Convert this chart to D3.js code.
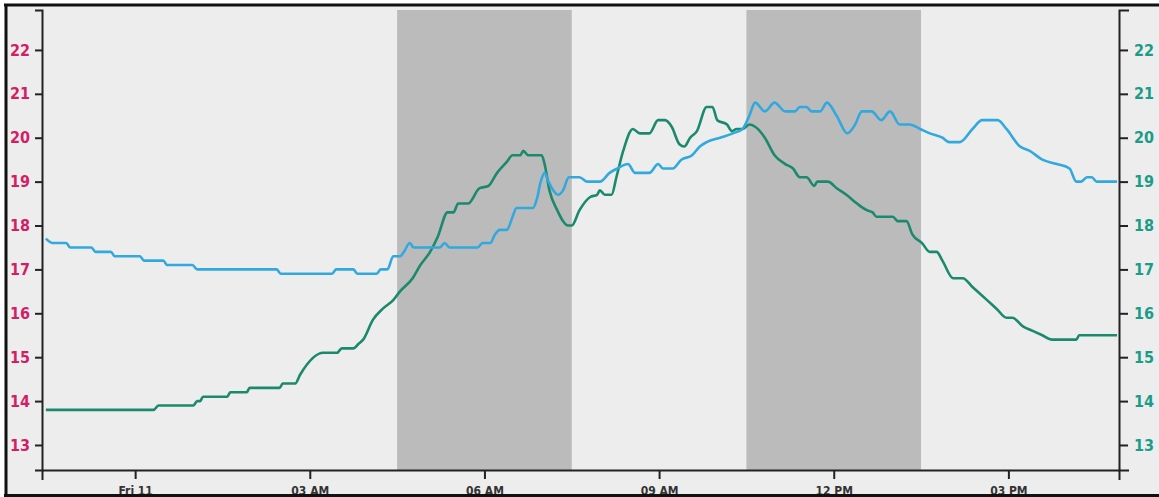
<!DOCTYPE html>
<html><head><meta charset="utf-8">
<script src="https://cdn.jsdelivr.net/npm/d3@7"></script>
<style>
html,body{margin:0;padding:0;background:#fff;}
svg{display:block;}
.tick text{font-family:'DejaVu Sans Condensed','DejaVu Sans',sans-serif;font-stretch:condensed;font-weight:bold;}
</style></head><body>
<svg id="chart" width="1159" height="497"></svg>
<script>
// minutes relative to Fri 11 00:00 (negative = Thu 10)
const yTickValues = [13,14,15,16,17,18,19,20,21,22];
const xTickMinutes = [0,180,360,540,720,900];
const shadedBands = [[270,450],[630,810]];
const blueSeries = [[-92,17.7],[-85,17.6],[-71,17.6],[-67,17.5],[-45,17.5],[-41,17.4],[-25,17.4],[-21,17.3],[5,17.3],[9,17.2],[29,17.2],[33,17.1],[59,17.1],[64,17.0],[146,17.0],[150,16.9],[203,16.9],[207,17.0],[225,17.0],[229,16.9],[249,16.9],[253,17.0],[260,17.0],[266,17.3],[273,17.3],[277,17.4],[283,17.6],[287,17.5],[314,17.5],[319,17.6],[324,17.5],[353,17.5],[358,17.6],[366,17.6],[371,17.8],[376,17.9],[383,17.9],[389,18.2],[393,18.4],[410,18.4],[414,18.6],[418,19.0],[422,19.2],[426,19.0],[431,18.8],[436,18.7],[441,18.8],[447,19.1],[458,19.1],[466,19.0],[479,19.0],[489,19.2],[497,19.3],[508,19.4],[515,19.2],[530,19.2],[539,19.4],[544,19.3],[554,19.3],[563,19.5],[574,19.6],[582,19.8],[589,19.9],[603,20.0],[616,20.1],[626,20.2],[633,20.5],[639,20.8],[649,20.6],[659,20.8],[670,20.6],[680,20.6],[685,20.7],[692,20.7],[697,20.6],[706,20.6],[713,20.8],[723,20.5],[734,20.1],[742,20.3],[749,20.6],[759,20.6],[769,20.4],[778,20.6],[788,20.3],[798,20.3],[809,20.2],[819,20.1],[832,20.0],[839,19.9],[850,19.9],[863,20.2],[873,20.4],[889,20.4],[898,20.2],[912,19.8],[922,19.7],[935,19.5],[950,19.4],[963,19.3],[970,19.0],[975,19.0],[981,19.1],[986,19.1],[991,19.0],[1012,19.0]];
const greenSeries = [[-92,13.8],[19,13.8],[24,13.9],[60,13.9],[64,14.0],[67,14.0],[70,14.1],[95,14.1],[98,14.2],[115,14.2],[118,14.3],[149,14.3],[152,14.4],[165,14.4],[170,14.6],[194,15.1],[208,15.1],[213,15.2],[225,15.2],[230,15.3],[235,15.4],[245,15.85],[255,16.1],[266,16.3],[273,16.5],[286,16.8],[294,17.1],[304,17.4],[312,17.75],[322,18.3],[328,18.3],[333,18.5],[343,18.5],[355,18.85],[364,18.9],[373,19.2],[383,19.45],[389,19.6],[397,19.6],[400,19.7],[405,19.6],[419,19.6],[422,19.4],[427,18.8],[435,18.35],[441,18.1],[446,18.0],[450,18.0],[458,18.35],[469,18.65],[476,18.7],[479,18.8],[484,18.7],[491,18.7],[496,19.1],[503,19.7],[513,20.2],[520,20.1],[530,20.1],[539,20.4],[546,20.4],[553,20.25],[561,19.85],[566,19.8],[572,20.0],[579,20.15],[589,20.7],[595,20.7],[600,20.4],[610,20.3],[615,20.15],[620,20.2],[626,20.2],[633,20.3],[639,20.25],[649,20.0],[659,19.6],[670,19.4],[678,19.3],[685,19.1],[692,19.1],[700,18.9],[703,19.0],[714,19.0],[723,18.85],[733,18.7],[744,18.5],[754,18.35],[760,18.3],[764,18.2],[781,18.2],[786,18.1],[795,18.1],[801,17.8],[811,17.6],[819,17.4],[826,17.4],[832,17.2],[843,16.8],[853,16.8],[863,16.6],[878,16.3],[888,16.1],[898,15.9],[904,15.9],[915,15.7],[925,15.6],[935,15.5],[945,15.4],[970,15.4],[973,15.5],[1012,15.5]];

const dayStart = new Date(2013, 9, 11, 0, 0);
const toDate = m => new Date(dayStart.getTime() + m * 60000);

const svg = d3.select('#chart');
const x = d3.scaleTime().domain([toDate(-96), toDate(1014)]).range([42, 1119]);
const y = d3.scaleLinear().domain([12.43, 22.91]).range([470, 10]);

// background
svg.append('rect').attr('x', 7).attr('y', 6).attr('width', 1152).attr('height', 489).attr('fill', '#ededed');

// shaded bands
svg.selectAll('rect.band').data(shadedBands).enter().append('rect')
  .attr('class', 'band')
  .attr('x', d => x(toDate(d[0])))
  .attr('width', d => x(toDate(d[1])) - x(toDate(d[0])))
  .attr('y', 10).attr('height', 460)
  .attr('fill', '#bbbbbb');

const line = d3.line()
  .x(d => x(toDate(d[0])))
  .y(d => y(d[1]))
  .curve(d3.curveMonotoneX);

svg.append('path').datum(greenSeries).attr('d', line)
  .attr('fill', 'none').attr('stroke', '#1b8a6c').attr('stroke-width', 2.6);
svg.append('path').datum(blueSeries).attr('d', line)
  .attr('fill', 'none').attr('stroke', '#31a9de').attr('stroke-width', 2.6);

const fmtDay = d3.timeFormat('%a %d');
const fmtHour = d3.timeFormat('%I %p');
const xAxis = d3.axisBottom(x)
  .tickValues(xTickMinutes.map(toDate))
  .tickFormat(d => d.getHours() === 0 ? fmtDay(d) : fmtHour(d))
  .tickSize(9).tickSizeOuter(10).tickPadding(7);
const gx = svg.append('g').attr('transform', 'translate(0,470)').call(xAxis);
gx.selectAll('text').attr('fill', '#333').style('font-size', '12px');

const gl = svg.append('g').attr('transform', 'translate(42,0)')
  .call(d3.axisLeft(y).tickValues(yTickValues).tickSize(7).tickSizeOuter(7).tickPadding(5));
gl.selectAll('text').attr('fill', '#d21e66').style('font-size', '16px');

const gr = svg.append('g').attr('transform', 'translate(1119,0)')
  .call(d3.axisRight(y).tickValues(yTickValues).tickSize(9).tickSizeOuter(10).tickPadding(6));
gr.selectAll('text').attr('fill', '#1c9c86').style('font-size', '16px');

[gx, gl, gr].forEach(g => {
  g.selectAll('.domain, .tick line').attr('stroke', '#222').attr('stroke-width', 2);
});

// frame
svg.append('line').attr('x1', 4).attr('x2', 1159).attr('y1', 5).attr('y2', 5).attr('stroke', '#111').attr('stroke-width', 3);
svg.append('line').attr('x1', 6).attr('x2', 6).attr('y1', 4).attr('y2', 497).attr('stroke', '#111').attr('stroke-width', 3);
svg.append('line').attr('x1', 4).attr('x2', 1159).attr('y1', 495.5).attr('y2', 495.5).attr('stroke', '#111').attr('stroke-width', 3);
</script>
</body></html>
